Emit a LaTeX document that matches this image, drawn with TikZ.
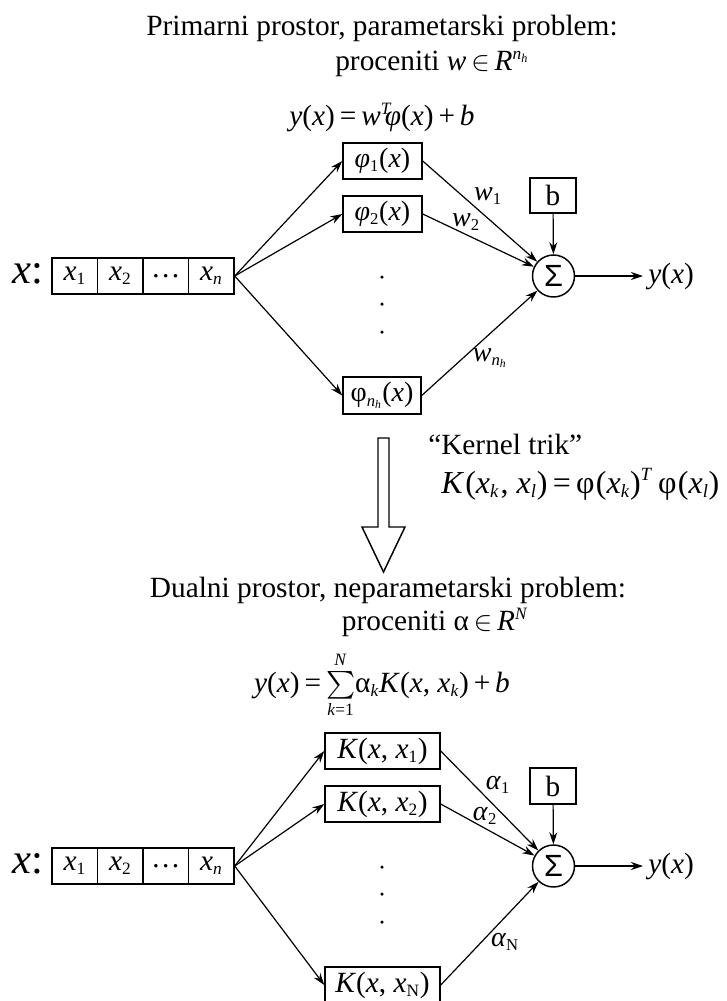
\documentclass[tikz,border=0pt]{standalone}
\usepackage{amsmath}
\usepackage{fontspec}
\setmainfont{Liberation Serif}
\newfontfamily\sigfont{Liberation Sans}
\DeclareMathSizes{20}{20}{12}{8}
\DeclareMathSizes{21}{21}{12.5}{9}
\DeclareMathSizes{22}{22}{13}{9.5}
\DeclareMathSizes{23}{23}{13.5}{10}
\DeclareMathSizes{24}{24}{14}{10}
\DeclareMathSizes{32}{32}{18}{12}
\usetikzlibrary{arrows.meta}
\newcommand\I[1]{\textit{#1}}
\newcommand\sbs[1]{\ensuremath{_{\text{#1}}}}
\newcommand\sps[1]{\ensuremath{^{\text{#1}}}}
\begin{document}
\begin{tikzpicture}[x=0.75pt,y=-0.75pt,
 every node/.style={font=\fontsize{22}{26}\selectfont, inner sep=0pt},
 cell/.style={draw, line width=1.1pt, minimum width={45.5*0.75pt}, minimum height={36*0.75pt}},
 fbox/.style={draw, line width=1.1pt, minimum width={79*0.75pt}, minimum height={36*0.75pt}, font=\fontsize{21}{25}\selectfont},
 kbox/.style={draw, line width=1.1pt, minimum width={115*0.75pt}, minimum height={36*0.75pt}},
 bbox/.style={draw, line width=1.1pt, minimum width={46*0.75pt}, minimum height={35*0.75pt}},
 sumc/.style={draw, circle, line width=1.1pt, minimum size={42*0.75pt}, font=\fontsize{23}{26}\sigfont},
 dotn/.style={circle, fill, minimum size={3.5*0.75pt}},
 conn/.style={line width=0.9pt, -{Stealth[length=9pt,width=6pt]}},
 bigx/.style={font=\fontsize{32}{36}\selectfont},
 lbl/.style={font=\fontsize{21}{25}\selectfont}
]
\useasboundingbox (0,0) rectangle (726,1001);

% ---------- top section ----------
\node[anchor=base] (t1) at (382,35) {Primarni prostor, parametarski problem:};
\node[anchor=base] (t2) at (432,70) {proceniti \I{w}\,$\in$\,\I{R}\sps{\I{n}\sbs{\I{h}}}};
\node[anchor=base] (e1) at (382,125) {\I{y}(\I{x})\,=\,\I{w}\sps{\I{T}}\kern-0.25em\I{φ}(\I{x})\,+\,\I{b}};

\node[bigx, anchor=base east] (xl1) at (44,283) {\I{x}:};
\node[cell] (a1) at (74.75,276) {\I{x}\sbs{1}};
\node[cell] (a2) at (120.25,276) {\I{x}\sbs{2}};
\node[cell] (a3) at (165.75,276) {…};
\node[cell] (a4) at (211.25,276) {\I{x}\sbs{\I{n}}};

\node[fbox] (p1) at (382.5,161) {\I{φ}\sbs{1}(\I{x})};
\node[fbox] (p2) at (382.5,214) {\I{φ}\sbs{2}(\I{x})};
\node[fbox, minimum width={78*0.75pt}, minimum height={37*0.75pt}] (pn) at (382,395.5) {φ\sbs{\I{n}\sbs{\I{h}}}(\I{x})};
\node[dotn] (d1) at (382,277) {};
\node[dotn] (d2) at (382,304) {};
\node[dotn] (d3) at (382,332) {};

\node[sumc] (s1) at (553.5,276) {Σ};
\node[bbox] (b1) at (553,195.5) {b};
\coordinate (o1) at (643,276);
\node[anchor=west] (y1) at (648,276) {\I{y}(\I{x})};

\draw[conn] (a4.east) -- (p1.west);
\draw[conn] (a4.east) -- (p2.west);
\draw[conn] (a4.east) -- (pn.west);
\draw[conn] (p1.east) -- (s1);
\draw[conn] (p2.east) -- (s1);
\draw[conn] (pn.east) -- (s1);
\draw[conn] (b1) -- (s1);
\draw[conn] (s1) -- (o1);

\node[lbl] (w1) at (488,196) {\I{w}\sbs{1}};
\node[lbl] (w2) at (466,222) {\I{w}\sbs{2}};
\node[lbl] (wn) at (490,358) {\I{w}\sbs{\I{n}\sbs{\I{h}}}};

% ---------- kernel trick ----------
\draw[line width=1.1pt] (378,438) -- (389,438) -- (389,527) -- (405,527)
  -- (383.5,572) -- (362,527) -- (378,527) -- cycle;
\node[anchor=base west] (kt) at (428,454) {“Kernel trik”};
\node[anchor=base west, font=\fontsize{24}{28}\selectfont] (kf) at (441,493)
  {\I{K}\kern1pt(\I{x}\sbs{\I{k}}\kern1pt, \I{x}\sbs{\I{l}})\,=\,φ\kern1pt(\I{x}\sbs{\I{k}})\sps{\I{T}}\,φ\kern1pt(\I{x}\sbs{\I{l}})};

% ---------- bottom section ----------
\node[anchor=base] (t3) at (388,597) {Dualni prostor, neparametarski problem:};
\node[anchor=base] (t4) at (435,630) {proceniti α\,$\in$\,\I{R}\sps{\I{N}}};
\node[anchor=base] (e2) at (382,692) {\I{y}(\I{x})\,=\,$\textstyle\sum\limits_{\text{\I{k}=1}}^{\text{\I{N}}}$α\sbs{\I{k}}\I{K}(\I{x}, \I{x}\sbs{\I{k}})\,+\,\I{b}};

\node[bigx, anchor=base east] (xl2) at (44,873) {\I{x}:};
\node[cell] (c1) at (74.75,866) {\I{x}\sbs{1}};
\node[cell] (c2) at (120.25,866) {\I{x}\sbs{2}};
\node[cell] (c3) at (165.75,866) {…};
\node[cell] (c4) at (211.25,866) {\I{x}\sbs{\I{n}}};

\node[kbox] (k1) at (382.5,751) {\I{K}(\I{x}, \I{x}\sbs{1})};
\node[kbox] (k2) at (382.5,804) {\I{K}(\I{x}, \I{x}\sbs{2})};
\node[kbox] (kn) at (382.5,985) {\I{K}(\I{x}, \I{x}\sbs{N})};
\node[dotn] (e1d) at (382,867) {};
\node[dotn] (e2d) at (382,894) {};
\node[dotn] (e3d) at (382,922) {};

\node[sumc] (s2) at (553.5,866) {Σ};
\node[bbox, minimum height={36*0.75pt}] (b2) at (553,786) {b};
\coordinate (o2) at (643,866);
\node[anchor=west] (y2) at (648,866) {\I{y}(\I{x})};

\draw[conn] (c4.east) -- (k1.west);
\draw[conn] (c4.east) -- (k2.west);
\draw[conn] (c4.east) -- (kn.west);
\draw[conn] (k1.east) -- (s2);
\draw[conn] (k2.east) -- (s2);
\draw[conn] (kn.east) -- (s2);
\draw[conn] (b2) -- (s2);
\draw[conn] (s2) -- (o2);

\node[lbl] (al1) at (498,785) {\I{α}\sbs{1}};
\node[lbl] (al2) at (485,816) {\I{α}\sbs{2}};
\node[lbl] (aln) at (505,942) {\I{α}\sbs{N}};
\end{tikzpicture}
\end{document}
